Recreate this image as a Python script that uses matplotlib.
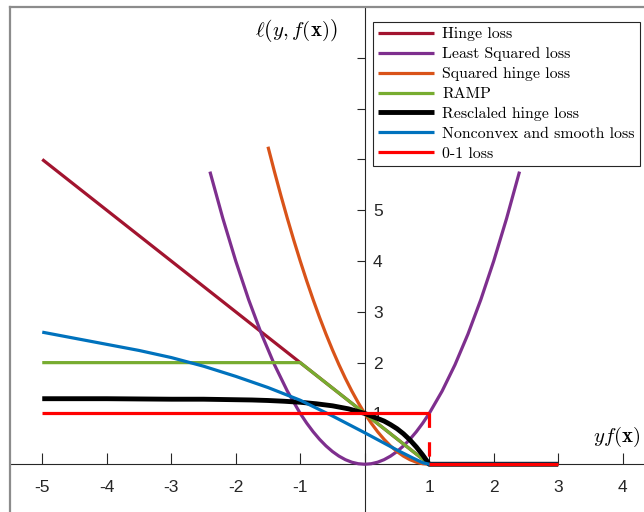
import matplotlib
matplotlib.use("Agg")
import matplotlib.pyplot as plt

plt.rcParams['mathtext.fontset'] = 'cm'
plt.rcParams['axes.unicode_minus'] = False

# ---- data ----
x_hinge = [-5, 1, 3]
y_hinge = [6, 0, 0]

x_ls = [-2.4, -2.2, -2.0, -1.8, -1.6, -1.4, -1.2, -1.0, -0.9, -0.8, -0.7, -0.6,
        -0.5, -0.4, -0.3, -0.2, -0.1, 0.0, 0.1, 0.2, 0.3, 0.4, 0.5, 0.6, 0.7,
        0.8, 0.9, 1.0, 1.2, 1.4, 1.6, 1.8, 2.0, 2.2, 2.4]
y_ls = [5.76, 4.84, 4.00, 3.24, 2.56, 1.96, 1.44, 1.00, 0.81, 0.64, 0.49, 0.36,
        0.25, 0.16, 0.09, 0.04, 0.01, 0.00, 0.01, 0.04, 0.09, 0.16, 0.25, 0.36, 0.49,
        0.64, 0.81, 1.00, 1.44, 1.96, 2.56, 3.24, 4.00, 4.84, 5.76]

x_sqh = [-1.5, -1.4, -1.3, -1.2, -1.1, -1.0, -0.9, -0.8, -0.7, -0.6, -0.5, -0.4,
         -0.3, -0.2, -0.1, 0.0, 0.1, 0.2, 0.3, 0.4, 0.5, 0.6, 0.7, 0.8, 0.9, 1.0, 3.0]
y_sqh = [6.25, 5.76, 5.29, 4.84, 4.41, 4.00, 3.61, 3.24, 2.89, 2.56, 2.25, 1.96,
         1.69, 1.44, 1.21, 1.00, 0.81, 0.64, 0.49, 0.36, 0.25, 0.16, 0.09, 0.04, 0.01, 0.00, 0.00]

x_ramp = [-5, -1, 1, 3]
y_ramp = [2, 2, 0, 0]

x_resc = [-5, -4, -3, -2.5, -2, -1.75, -1.5, -1.25, -1, -0.75, -0.5, -0.25, 0, 0.1,
          0.2, 0.3, 0.4, 0.5, 0.6, 0.7, 0.8, 0.9, 1, 3]
y_resc = [1.29, 1.29, 1.28, 1.28, 1.27, 1.265, 1.255, 1.24, 1.22, 1.19, 1.15, 1.09,
          1.00, 0.95, 0.90, 0.85, 0.78, 0.70, 0.60, 0.48, 0.34, 0.18, 0.00, 0.00]

x_ncs = [-5, -4.5, -4, -3.5, -3, -2.5, -2, -1.5, -1, -0.5, 0, 0.25, 0.5, 0.75, 0.9, 1, 3]
y_ncs = [2.60, 2.48, 2.36, 2.24, 2.10, 1.93, 1.73, 1.51, 1.26, 0.95, 0.62, 0.45, 0.28,
         0.12, 0.03, 0.00, 0.00]

x_01_top = [-5, 1]
y_01_top = [1, 1]
x_01_jump = [1, 1]
y_01_jump = [1, 0]
x_01_bot = [1, 3]
y_01_bot = [0, 0]

labels = ['Hinge loss', 'Least Squared loss', 'Squared hinge loss', 'RAMP',
          'Resclaled hinge loss', 'Nonconvex and smooth loss', '0-1 loss']
colors = ['#A2142F', '#7E2F8E', '#D95319', '#77AC30', '#000000', '#0072BD', '#FF0000']

xticks = [-5, -4, -3, -2, -1, 0, 1, 2, 3, 4]
xtick_labels = ['-5', '-4', '-3', '-2', '-1', '', '1', '2', '3', '4']
yticks = [1, 2, 3, 4, 5, 6, 7, 8]
ytick_labels = ['1', '2', '3', '4', '5', '6', '7', '8']

# ---- figure ----
fig = plt.figure(figsize=(6.44, 5.12), dpi=100)
ax = fig.add_axes([10 / 644, 0, 634 / 644, 505 / 512])
ax.set_xlim(-5.5, 4.33)
ax.set_ylim(-0.94, 9)

lw = 2.3
kw = dict(solid_capstyle='butt', solid_joinstyle='round', zorder=3)
ax.plot(x_hinge, y_hinge, color=colors[0], lw=lw, label=labels[0], **kw)
ax.plot(x_ls, y_ls, color=colors[1], lw=lw, label=labels[1], **kw)
ax.plot(x_sqh, y_sqh, color=colors[2], lw=lw, label=labels[2], **kw)
ax.plot(x_ramp, y_ramp, color=colors[3], lw=lw, label=labels[3], **kw)
ax.plot(x_resc, y_resc, color=colors[4], lw=3.5, label=labels[4], **kw)
ax.plot(x_ncs, y_ncs, color=colors[5], lw=lw, label=labels[5], **kw)
ax.plot(x_01_top, y_01_top, color=colors[6], lw=lw, label=labels[6], **kw)
ax.plot(x_01_jump, y_01_jump, color=colors[6], lw=lw, dashes=(4.5, 4.5),
        dash_capstyle='butt', zorder=3)
ax.plot(x_01_bot, y_01_bot, color=colors[6], lw=lw, **kw)

# spines
for s in ('left', 'top'):
    ax.spines[s].set_color('#8c8c8c')
    ax.spines[s].set_linewidth(1.6)
for s in ('bottom', 'right'):
    ax.spines[s].set_position(('data', 0))
    ax.spines[s].set_color('#262626')
    ax.spines[s].set_linewidth(0.8)
    ax.spines[s].set_zorder(2)

ax.xaxis.set_ticks_position('bottom')
ax.yaxis.set_ticks_position('right')
ax.set_xticks(xticks)
ax.set_xticklabels(xtick_labels, fontfamily='Liberation Sans', fontsize=12.5)
ax.set_yticks(yticks)
ax.set_yticklabels(ytick_labels, fontfamily='Liberation Sans', fontsize=12.5)
ax.tick_params(axis='x', direction='in', length=8, width=0.8, pad=11,
               colors='#262626')
ax.tick_params(axis='y', direction='in', length=6, width=0.8, pad=6,
               colors='#262626')

ax.text(-1.70, 8.53, r'$\ell\left(y,f(\mathbf{x})\right)$', fontsize=15,
        ha='left', va='center', color='black')
ax.text(3.54, 0.53, r'$yf(\mathbf{x})$', fontsize=15, ha='left', va='center',
        color='black')

leg = ax.legend(loc='upper right', bbox_to_anchor=(0.9937, 0.970),
                borderaxespad=0, fancybox=False, framealpha=1,
                edgecolor='#262626', prop={'family': 'cmr10', 'size': 11.4},
                handlelength=3.5, handletextpad=0.55, labelspacing=0.36,
                borderpad=0.33)
leg.get_frame().set_linewidth(0.8)

fig.savefig('out.png', dpi=100)
